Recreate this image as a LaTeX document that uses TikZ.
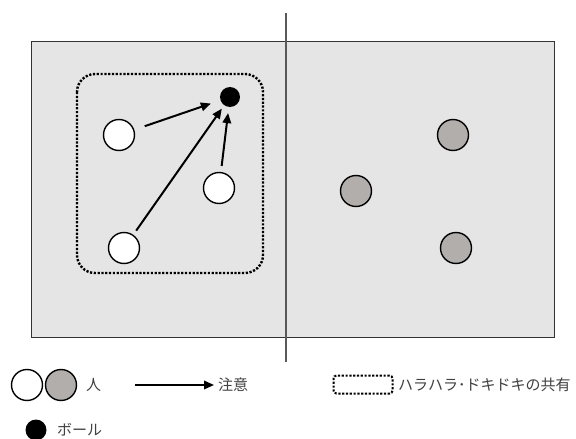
\documentclass[tikz,border=0pt]{standalone}
\usepackage{fontspec}
\setmainfont{Noto Sans CJK JP}
\usetikzlibrary{arrows.meta}

\begin{document}
\begin{tikzpicture}[
  x=1pt, y=-1pt,
  font=\fontsize{15}{17}\selectfont,
  court/.style={draw=black!80, fill=black!10, line width=0.9pt},
  net/.style={draw=black!65, line width=2.2pt},
  person/.style={
    circle, draw=black, line width=1.4pt,
    minimum size=31pt, inner sep=0pt, fill=white
  },
  mine/.style={person},
  theirs/.style={person, fill={rgb,255:red,178;green,174;blue,172}},
  ball/.style={circle, fill=black, minimum size=20pt, inner sep=0pt},
  attn/.style={-{Triangle[length=10pt,width=8.5pt]}, line width=2pt},
  share/.style={
    draw=black, line width=2.4pt, dash pattern=on 2.2pt off 1.6pt,
    rounded corners=18pt
  },
  label/.style={anchor=west, text=black!75, inner sep=0pt},
]
\useasboundingbox (0,0) rectangle (576,439);

% court and net
\draw[court] (31,41) rectangle (554,337);
\coordinate (nettop) at (286,13);
\coordinate (netbot) at (286,362);
\draw[net] (nettop) -- (netbot);

% shared excitement zone
\draw[share] (77,74) rectangle (263,273);

% left team and the ball
\node[ball] (ball) at (230,97) {};
\node[mine] (a1) at (119,135) {};
\node[mine] (a2) at (219,188) {};
\node[mine] (a3) at (124,248) {};

% attention towards the ball
\draw[attn, shorten <=11pt, shorten >=10pt] (a1) -- (ball);
\draw[attn, shorten <=5pt, shorten >=4pt] (a3) -- (ball);
\draw[attn, shorten <=6pt, shorten >=6pt] (a2) -- (ball);

% right team
\node[theirs] (b1) at (453,135) {};
\node[theirs] (b2) at (356,191) {};
\node[theirs] (b3) at (456,248) {};

% legend
\node[mine] (lgwhite) at (27,385) {};
\node[theirs] (lggray) at (61,385) {};
\node[label] (lgperson) at (86,385) {人};

\coordinate (lgfrom) at (135,385);
\coordinate (lgto) at (214,385);
\draw[attn, line width=1.8pt] (lgfrom) -- (lgto);
\node[label] (lgattn) at (218,385) {注意};

\node[share, rounded corners=3pt, line width=2pt,
  minimum width=59pt, minimum height=18pt] (lgshare) at (363,384.5) {};
\node[label] (lgsharetxt) at (398,385) {ハラハラ･ドキドキの共有};

\node[ball, minimum size=21pt] (lgball) at (36,430) {};
\node[label] (lgballtxt) at (57,430) {ボール};

\end{tikzpicture}
\end{document}
